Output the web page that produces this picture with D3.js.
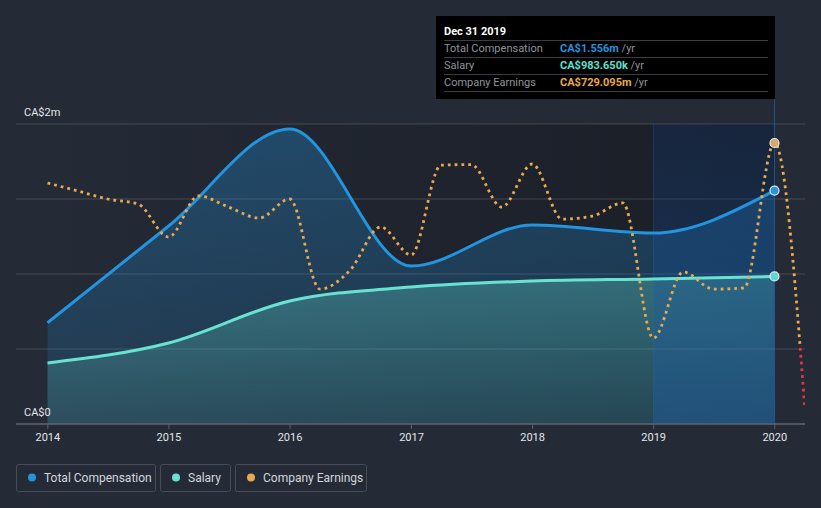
<!DOCTYPE html>
<html>
<head>
<meta charset="utf-8">
<script src="https://cdn.jsdelivr.net/npm/d3@7"></script>
<style>
  html, body { margin: 0; padding: 0; background: #242a36; }
  svg { display: block; font-family: Roboto, "Noto Sans", sans-serif; }
</style>
</head>
<body>
<svg id="chart" width="821" height="508"></svg>
<script>
// ---- data ----
const annualDates = ["2013-12-31","2014-12-31","2015-12-31","2016-12-31","2017-12-31","2018-12-31","2019-12-31"];
const totalCompensation = [0.675, 1.32, 1.967, 1.053, 1.327, 1.273, 1.556]; // CA$ millions
const salary = [0.407, 0.54, 0.82, 0.913, 0.953, 0.967, 0.98365];              // CA$ millions
const earningsDates = ["2013-12-31","2014-03-31","2014-06-30","2014-09-30","2014-12-31",
  "2015-03-31","2015-06-30","2015-09-30","2015-12-31","2016-03-31","2016-06-30","2016-09-30",
  "2016-12-31","2017-03-31","2017-06-30","2017-09-30","2017-12-31","2018-03-31","2018-06-30",
  "2018-09-30","2018-12-31","2019-03-31","2019-06-30","2019-09-30","2019-12-31","2020-03-31"];
const companyEarnings = [586, 558, 529, 511, 393, 540, 500, 461, 529, 207, 275, 429, 329,
  650, 652, 500, 654, 457, 468, 515, 32, 268, 207, 211, 729.095, -210];           // CA$ millions
const yTicks = [0, 0.5, 1, 1.5, 2];
const yTickLabels = {0: "CA$0", 2: "CA$2m"};
const xTickYears = [2014, 2015, 2016, 2017, 2018, 2019, 2020];
const seriesNames = ["Total Compensation", "Salary", "Company Earnings"];
const seriesColors = ["#2394df", "#68e3d2", "#e8a94f"];
const tooltipTitle = "Dec 31 2019";
const tooltipValues = ["CA$1.556m", "CA$983.650k", "CA$729.095m"];

(function () {
const parse = d3.timeParse("%Y-%m-%d");
const svg = d3.select("#chart");
const W = 821, H = 508;
const topY = 124, bottomY = 424, leftX = 16, rightX = 805;

const x = d3.scaleTime()
  .domain([new Date(2013, 8, 27), new Date(2020, 3, 1)])
  .range([leftX, rightX]);
const y = d3.scaleLinear().domain([0, 2]).range([bottomY, topY]);
const yE = d3.scaleLinear().domain([-275, 797]).range([bottomY, topY]);

const comp = annualDates.map((d, i) => ({date: parse(d), v: totalCompensation[i]}));
const sal = annualDates.map((d, i) => ({date: parse(d), v: salary[i]}));
const earn = earningsDates.map((d, i) => ({date: parse(d), v: companyEarnings[i]}));

const defs = svg.append("defs");

const dg = defs.append("linearGradient").attr("id", "darken").attr("x1", 0).attr("x2", 1).attr("y1", 0).attr("y2", 0);
dg.append("stop").attr("offset", "0%").attr("stop-color", "#000").attr("stop-opacity", 0);
dg.append("stop").attr("offset", "100%").attr("stop-color", "#000").attr("stop-opacity", 0.3);

const cg = defs.append("linearGradient").attr("id", "compFill").attr("x1", 0).attr("x2", 0).attr("y1", 0).attr("y2", 1);
cg.append("stop").attr("offset", "0%").attr("stop-color", seriesColors[0]).attr("stop-opacity", 0.32);
cg.append("stop").attr("offset", "100%").attr("stop-color", seriesColors[0]).attr("stop-opacity", 0.14);

const sg = defs.append("linearGradient").attr("id", "salFill").attr("x1", 0).attr("x2", 0).attr("y1", 0).attr("y2", 1);
sg.append("stop").attr("offset", "0%").attr("stop-color", seriesColors[1]).attr("stop-opacity", 0.3);
sg.append("stop").attr("offset", "100%").attr("stop-color", seriesColors[1]).attr("stop-opacity", 0.12);

const hg = defs.append("linearGradient").attr("id", "hiFill").attr("x1", 0).attr("x2", 0).attr("y1", 0).attr("y2", 1);
hg.append("stop").attr("offset", "0%").attr("stop-color", "#0b3f8a").attr("stop-opacity", 0.22);
hg.append("stop").attr("offset", "100%").attr("stop-color", "#1a68c8").attr("stop-opacity", 0.32);

defs.append("clipPath").attr("id", "clipPos").append("rect")
  .attr("x", 0).attr("y", 0).attr("width", rightX).attr("height", yE(0));
defs.append("clipPath").attr("id", "clipNeg").append("rect")
  .attr("x", 0).attr("y", yE(0)).attr("width", rightX).attr("height", H - yE(0));

svg.append("rect").attr("width", W).attr("height", H).attr("fill", "#242a36");

const x0 = x(parse(annualDates[0])), x1 = x(parse(annualDates[annualDates.length - 1]));
svg.append("rect").attr("x", x0).attr("y", topY).attr("width", x1 - x0).attr("height", bottomY - topY)
  .attr("fill", "url(#darken)");

svg.append("g").selectAll("line").data(yTicks).join("line")
  .attr("x1", leftX).attr("x2", rightX)
  .attr("y1", d => y(d)).attr("y2", d => y(d))
  .attr("stroke", "#ffffff").attr("stroke-opacity", 0.16).attr("stroke-width", 1);

const curve = d3.curveMonotoneX;
svg.append("path").datum(comp)
  .attr("d", d3.area().curve(curve).x(d => x(d.date)).y0(bottomY).y1(d => y(d.v)))
  .attr("fill", "url(#compFill)");
svg.append("path").datum(sal)
  .attr("d", d3.area().curve(curve).x(d => x(d.date)).y0(bottomY).y1(d => y(d.v)))
  .attr("fill", "url(#salFill)");

const hx0 = x(parse(annualDates[annualDates.length - 2]));
svg.append("rect").attr("x", hx0).attr("y", topY).attr("width", x1 - hx0).attr("height", bottomY - topY)
  .attr("fill", "url(#hiFill)");
svg.append("line").attr("x1", hx0).attr("x2", hx0).attr("y1", topY).attr("y2", bottomY)
  .attr("stroke", "#2a6db5").attr("stroke-opacity", 0.3);

svg.append("line").attr("x1", x1).attr("x2", x1).attr("y1", 99).attr("y2", bottomY)
  .attr("stroke", "#1f5fa0").attr("stroke-opacity", 0.8).attr("stroke-width", 1);

svg.append("path").datum(sal)
  .attr("d", d3.line().curve(curve).x(d => x(d.date)).y(d => y(d.v)))
  .attr("fill", "none").attr("stroke", seriesColors[1]).attr("stroke-width", 3);
svg.append("path").datum(comp)
  .attr("d", d3.line().curve(curve).x(d => x(d.date)).y(d => y(d.v)))
  .attr("fill", "none").attr("stroke", seriesColors[0]).attr("stroke-width", 3);

const eLine = d3.line().curve(curve).x(d => x(d.date)).y(d => yE(d.v));
svg.append("path").datum(earn).attr("d", eLine).attr("clip-path", "url(#clipPos)")
  .attr("fill", "none").attr("stroke", seriesColors[2]).attr("stroke-width", 2.8)
  .attr("stroke-dasharray", "2.8,4");
svg.append("path").datum(earn).attr("d", eLine).attr("clip-path", "url(#clipNeg)")
  .attr("fill", "none").attr("stroke", "#e8343c").attr("stroke-width", 2.8)
  .attr("stroke-dasharray", "2.8,4");

const lastC = comp[comp.length - 1], lastS = sal[sal.length - 1];
const lastE = earn.find(d => +d.date === +parse("2019-12-31"));
[[x(lastE.date), yE(lastE.v), "#d9a868"], [x(lastC.date), y(lastC.v), seriesColors[0]], [x(lastS.date), y(lastS.v), "#5fd8d0"]]
  .forEach(([cx, cy, c]) => {
    svg.append("circle").attr("cx", cx).attr("cy", cy).attr("r", 4.5)
      .attr("fill", c).attr("stroke", "#e6e9ee").attr("stroke-width", 1.2);
  });

svg.append("line").attr("x1", leftX).attr("x2", rightX).attr("y1", bottomY).attr("y2", bottomY)
  .attr("stroke", "#5a606c").attr("stroke-width", 1.5);
const xa = svg.append("g");
xTickYears.forEach(yr => {
  const px = x(new Date(yr, 0, 1));
  xa.append("line").attr("x1", px).attr("x2", px).attr("y1", bottomY).attr("y2", bottomY + 5)
    .attr("stroke", "#5a606c").attr("stroke-width", 1);
  xa.append("text").attr("x", px).attr("y", 441).attr("text-anchor", "middle")
    .attr("fill", "#e3e6ea").attr("font-size", 11).text(yr);
});

Object.keys(yTickLabels).forEach(k => {
  svg.append("text").attr("x", 24).attr("y", y(+k) - 8)
    .attr("fill", "#e3e6ea").attr("font-size", 11).text(yTickLabels[k]);
});

const tt = svg.append("g");
tt.append("rect").attr("x", 436).attr("y", 16).attr("width", 339).attr("height", 83).attr("fill", "#000");
tt.append("text").attr("x", 444).attr("y", 35).attr("fill", "#fff").attr("font-size", 11)
  .attr("font-weight", "bold").text(tooltipTitle);
[40, 57, 74, 91].forEach(ly => {
  tt.append("line").attr("x1", 444).attr("x2", 768).attr("y1", ly + 0.5).attr("y2", ly + 0.5)
    .attr("stroke", "#3a3d44").attr("stroke-width", 1);
});
seriesNames.forEach((n, i) => {
  const ty = 52 + i * 17;
  tt.append("text").attr("x", 444).attr("y", ty).attr("fill", "#8e939b").attr("font-size", 11).text(n);
  const t = tt.append("text").attr("x", 560).attr("y", ty).attr("font-size", 11);
  t.append("tspan").attr("fill", i === 1 ? "#5fe0cf" : seriesColors[i])
    .attr("font-weight", "bold").text(tooltipValues[i]);
  t.append("tspan").attr("fill", "#8e939b").text(" /yr");
});

const legendBoxes = [[16, 139], [160, 70], [235, 131]];
seriesNames.forEach((n, i) => {
  const [bx, bw] = legendBoxes[i];
  svg.append("rect").attr("x", bx + 0.5).attr("y", 464.5).attr("width", bw).attr("height", 27)
    .attr("rx", 2).attr("fill", "none").attr("stroke", "#464c58").attr("stroke-width", 1);
  svg.append("circle").attr("cx", bx + 16).attr("cy", 477.5).attr("r", 4).attr("fill", seriesColors[i]);
  svg.append("text").attr("x", bx + 28).attr("y", 482).attr("fill", "#d3d6dc")
    .attr("font-size", 12).text(n);
});
})();
</script>
</body>
</html>
